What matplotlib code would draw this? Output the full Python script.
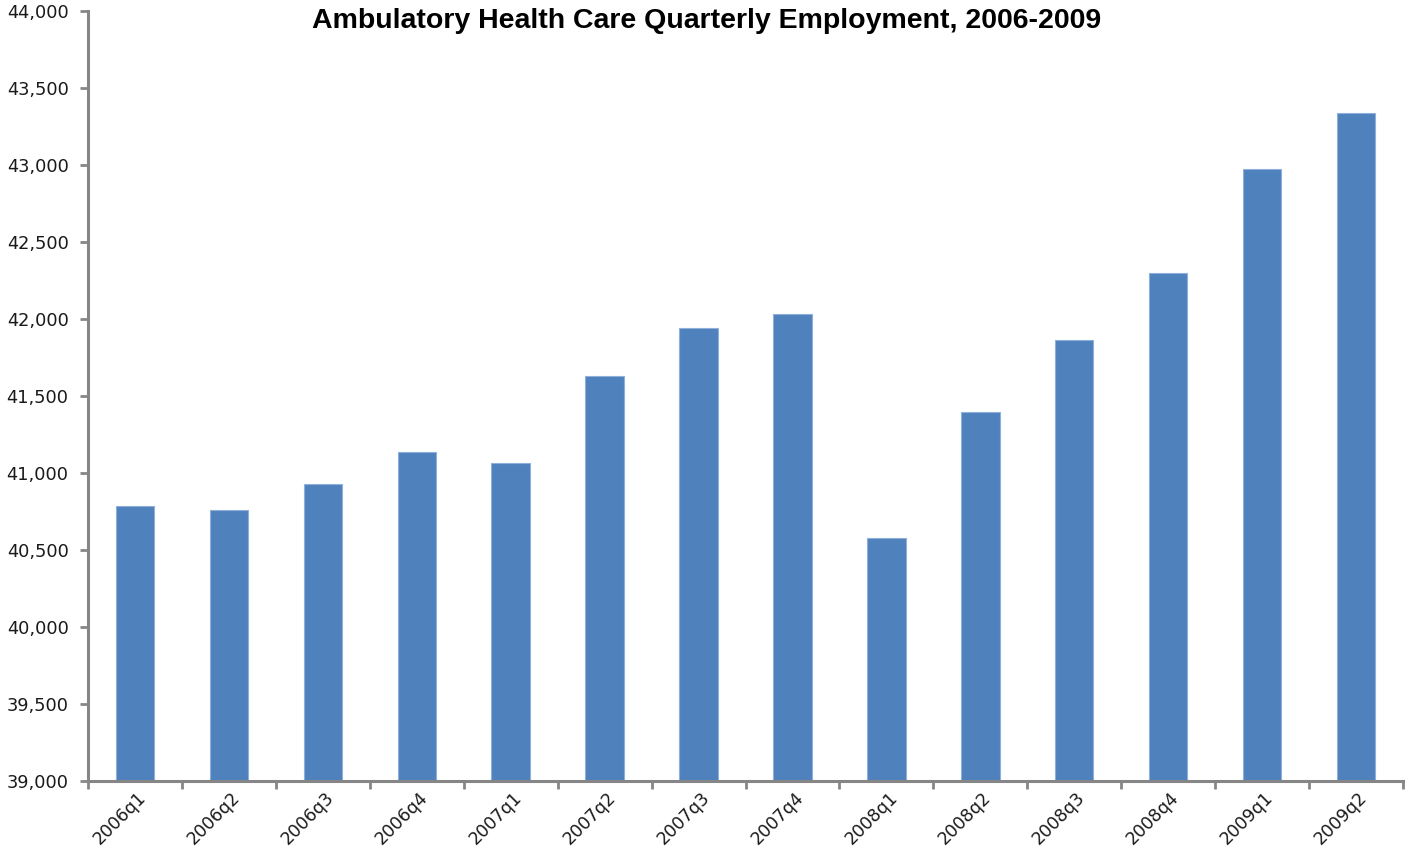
import matplotlib
matplotlib.use("Agg")
import matplotlib.pyplot as plt
from matplotlib import font_manager
from matplotlib.ticker import FuncFormatter, FixedLocator
from matplotlib.transforms import ScaledTranslation
import numpy as np

quarters = ["2006q1", "2006q2", "2006q3", "2006q4", "2007q1", "2007q2", "2007q3",
            "2007q4", "2008q1", "2008q2", "2008q3", "2008q4", "2009q1", "2009q2"]
employment = [40786, 40760, 40929, 41136, 41065, 41630, 41942,
              42032, 40578, 41396, 41864, 42299, 42974, 43338]
y_ticks = list(range(39000, 44001, 500))

# bold Arial-like face for the title (regular width, not the narrow variant)
title_font = None
for f in font_manager.fontManager.ttflist:
    if f.name == "Liberation Sans" and f.weight in (700, "bold") and f.style == "normal":
        title_font = font_manager.FontProperties(fname=f.fname, size=20.5)
        break
if title_font is None:
    title_font = font_manager.FontProperties(family="DejaVu Sans", weight="bold", size=16.5)

fig = plt.figure(figsize=(14.11, 8.51), dpi=100)
ax = fig.add_axes([0.0624, 0.0823, 0.9319, 0.9048])

x = np.arange(len(quarters))
ax.bar(x, employment, width=0.41, bottom=0, color="#4F81BD",
       edgecolor="#8EB0DA", linewidth=0.8, zorder=2)

ax.set_xlim(-0.5, len(quarters) - 0.5)
ax.set_ylim(39000, 44000)
ax.set_yticks(y_ticks)
ax.yaxis.set_major_formatter(FuncFormatter(lambda v, p: f"{int(v):,}"))

# category labels centred on bars, tick marks on category boundaries
ax.set_xticks(x)
ax.set_xticklabels(quarters, rotation=45, ha="right", va="center",
                   rotation_mode="anchor", fontsize=12.5, color="#1a1a1a")
ax.tick_params(axis="x", which="major", length=0, pad=10)
shift = ScaledTranslation(6 / 72, 0, fig.dpi_scale_trans)
for lbl in ax.get_xticklabels():
    lbl.set_transform(lbl.get_transform() + shift)
ax.xaxis.set_minor_locator(FixedLocator(np.arange(-0.5, len(quarters), 1.0)))
ax.tick_params(axis="x", which="minor", length=6, width=2, color="#868686",
               direction="out")
ax.tick_params(axis="y", length=6, width=2, color="#868686", direction="out",
               labelsize=12.8, labelcolor="#1a1a1a", pad=8)

for side in ("top", "right"):
    ax.spines[side].set_visible(False)
for side in ("left", "bottom"):
    ax.spines[side].set_color("#868686")
    ax.spines[side].set_linewidth(2.2)

fig.text(0.5005, 0.975, "Ambulatory Health Care Quarterly Employment, 2006-2009",
         ha="center", va="center", fontproperties=title_font, color="#000000")

fig.savefig("out.png", dpi=100)
